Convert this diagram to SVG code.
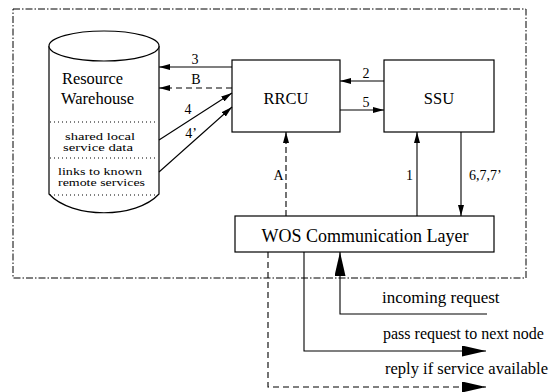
<svg xmlns="http://www.w3.org/2000/svg" width="552" height="392" viewBox="0 0 552 392" font-family="'Liberation Serif', 'DejaVu Serif', serif">
<style>
text{font-family:'Liberation Serif','DejaVu Serif',serif;fill:#000}
.ln{fill:none;stroke:#000;stroke-width:1.1}
.dash{stroke-dasharray:6 4}
.box{fill:#fff;stroke:#000;stroke-width:1.2}
.dot{fill:none;stroke:#000;stroke-width:1;stroke-dasharray:1 3}
.lbl{font-size:14px}
.big{font-size:17px}
</style>
<defs>
<marker id="ah" markerWidth="11" markerHeight="6" refX="11" refY="3" orient="auto" markerUnits="userSpaceOnUse">
<path d="M0,0 L11,3 L0,6 z" fill="#000" stroke="none"/>
</marker>
<marker id="bh" markerWidth="24" markerHeight="11" refX="24" refY="5.5" orient="auto" markerUnits="userSpaceOnUse">
<path d="M0,0 L24,5.5 L0,11 z" fill="#000" stroke="none"/>
</marker>
</defs>
<rect x="13" y="9" width="513" height="269" fill="none" stroke="#000" stroke-width="1" stroke-dasharray="7 2 1.5 2"/>
<g id="warehouse">
<path d="M49,46 L49,194 C72,219 136,219 159,194 L159,46" fill="#fff" stroke="#000" stroke-width="1.2"/>
<ellipse cx="104" cy="46" rx="55" ry="15" fill="#fff" stroke="#000" stroke-width="1.2"/>
<line class="dot" x1="50" y1="122" x2="158" y2="122"/>
<line class="dot" x1="50" y1="158" x2="158" y2="158"/>
<line class="dot" x1="50" y1="195" x2="158" y2="195"/>
<text x="62" y="84" font-size="16" textLength="61" lengthAdjust="spacingAndGlyphs">Resource</text>
<text x="61" y="104" font-size="16" textLength="73" lengthAdjust="spacingAndGlyphs">Warehouse</text>
<text x="65" y="140" font-size="11" textLength="70" lengthAdjust="spacingAndGlyphs">shared local</text>
<text x="63" y="151" font-size="11" textLength="70" lengthAdjust="spacingAndGlyphs">service data</text>
<text x="58" y="175" font-size="11" textLength="84" lengthAdjust="spacingAndGlyphs">links to known</text>
<text x="58" y="186" font-size="11" textLength="87" lengthAdjust="spacingAndGlyphs">remote services</text>
</g>
<g id="rrcu">
<rect class="box" x="232" y="60" width="108" height="72"/>
<text x="286" y="104" font-size="16.5" text-anchor="middle">RRCU</text>
</g>
<g id="ssu">
<rect class="box" x="384" y="60" width="110" height="72"/>
<text x="439" y="104" font-size="16.5" text-anchor="middle">SSU</text>
</g>
<g id="wos">
<rect class="box" x="235" y="216" width="259" height="36"/>
<text x="365" y="242" font-size="18" text-anchor="middle" textLength="207" lengthAdjust="spacingAndGlyphs">WOS Communication Layer</text>
</g>
<g id="connectors">
<line class="ln" x1="232" y1="67" x2="159" y2="67" marker-end="url(#ah)"/>
<line class="ln dash" x1="232" y1="88" x2="159" y2="88" marker-end="url(#ah)"/>
<line class="ln" x1="159" y1="140" x2="232" y2="93" marker-end="url(#ah)"/>
<line class="ln" x1="159" y1="172" x2="232" y2="107" marker-end="url(#ah)"/>
<line class="ln" x1="384" y1="81" x2="340" y2="81" marker-end="url(#ah)"/>
<line class="ln" x1="340" y1="110" x2="384" y2="110" marker-end="url(#ah)"/>
<line class="ln" x1="286" y1="216" x2="286" y2="132" stroke-dasharray="6 3" marker-end="url(#ah)"/>
<line class="ln" x1="417" y1="216" x2="417" y2="132" marker-end="url(#ah)"/>
<line class="ln" x1="461" y1="132" x2="461" y2="216" marker-end="url(#ah)"/>
<polyline class="ln" points="487,314 340,314 340,252" marker-end="url(#bh)"/>
<polyline class="ln" points="304,252 304,351 486,351" marker-end="url(#bh)"/>
<polyline class="ln dash" points="268,252 268,387 486,387" marker-end="url(#bh)"/>
<text class="lbl" x="195" y="64" text-anchor="middle">3</text>
<text class="lbl" x="196" y="84" text-anchor="middle">B</text>
<text class="lbl" x="188" y="114" text-anchor="middle">4</text>
<text class="lbl" x="191" y="138" text-anchor="middle">4’</text>
<text class="lbl" x="366" y="78" text-anchor="middle">2</text>
<text class="lbl" x="366" y="107" text-anchor="middle">5</text>
<text class="lbl" x="278.5" y="180" text-anchor="middle">A</text>
<text class="lbl" x="409.5" y="180" text-anchor="middle">1</text>
<text class="lbl" x="469" y="180">6,7,7’</text>
<text class="big" x="382" y="303">incoming request</text>
<text x="383" y="339" font-size="16">pass request to next node</text>
<text class="big" x="385" y="374" textLength="163" lengthAdjust="spacingAndGlyphs">reply if service available</text>
</g>
</svg>
